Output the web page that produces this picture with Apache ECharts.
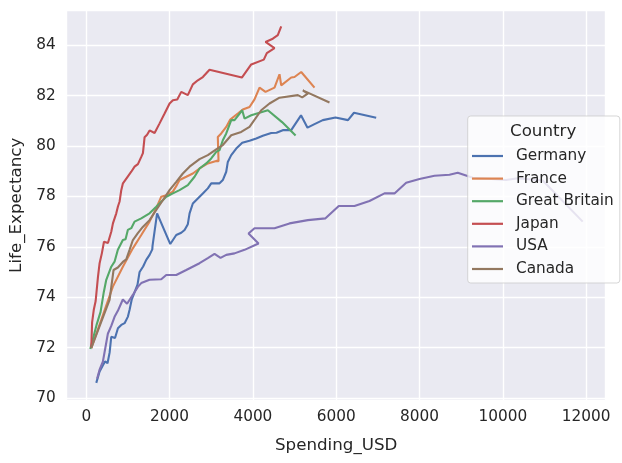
<!DOCTYPE html>
<html>
<head>
<meta charset="utf-8">
<script src="https://cdn.jsdelivr.net/npm/echarts@6/dist/echarts.min.js"></script>
<style>
html,body{margin:0;padding:0;background:#fff;}
#chart{width:622px;height:463px;}
</style>
</head>
<body>
<div id="chart"></div>
<script>
// ---- Data ----
const countries = ['Germany', 'France', 'Great Britain', 'Japan', 'USA', 'Canada'];
const xTickLabels = ['0', '2000', '4000', '6000', '8000', '10000', '12000'];
const yTickLabels = ['70', '72', '74', '76', '78', '80', '82', '84'];

const germanySpending = [240, 320, 400, 450, 510, 560, 600, 645, 690, 760, 840, 920, 1000, 1040, 1090, 1160, 1230, 1280, 1365, 1440, 1520, 1585, 1590, 1700, 2017, 2160, 2280, 2360, 2438, 2480, 2558, 2678, 2798, 2918, 3000, 3199, 3278, 3360, 3398, 3480, 3600, 3744, 3919, 4080, 4238, 4440, 4567, 4718, 4920, 5155, 5311, 5479, 5678, 5983, 6283, 6427, 6960];
const germanyLife = [70.6, 71.05, 71.3, 71.45, 71.38, 71.8, 72.43, 72.5, 72.38, 72.77, 72.9, 72.97, 73.23, 73.5, 73.9, 74.2, 74.5, 75.0, 75.22, 75.48, 75.68, 75.9, 76.03, 77.33, 76.11, 76.47, 76.56, 76.67, 76.9, 77.33, 77.72, 77.92, 78.12, 78.32, 78.52, 78.52, 78.65, 78.98, 79.37, 79.64, 79.9, 80.13, 80.21, 80.3, 80.41, 80.52, 80.53, 80.63, 80.63, 81.22, 80.73, 80.87, 81.03, 81.13, 81.03, 81.32, 81.12];

const franceSpending = [120, 360, 638, 878, 1118, 1320, 1519, 1680, 1800, 1920, 2078, 2174, 2239, 2400, 2558, 2719, 2918, 3120, 3175, 3158, 3240, 3360, 3456, 3638, 3758, 3919, 4039, 4159, 4303, 4519, 4639, 4680, 4920, 4999, 5160, 5479];
const franceLife = [71.98, 73.1, 74.42, 75.21, 75.94, 76.47, 77.0, 77.53, 77.99, 78.05, 78.19, 78.45, 78.65, 78.78, 78.91, 79.11, 79.31, 79.41, 79.4, 80.36, 80.5, 80.76, 81.05, 81.29, 81.45, 81.55, 81.85, 82.32, 82.15, 82.32, 82.85, 82.41, 82.72, 82.74, 82.94, 82.32];

const britainSpending = [96, 247, 343, 420, 480, 600, 679, 758, 878, 943, 998, 1080, 1159, 1320, 1519, 1680, 1800, 1920, 2079, 2239, 2438, 2599, 2719, 2880, 3000, 3120, 3199, 3278, 3360, 3480, 3559, 3744, 3799, 3960, 4159, 4359, 4700, 5025];
const britainLife = [71.94, 72.9, 73.42, 74.2, 74.69, 75.21, 75.41, 75.88, 76.27, 76.3, 76.67, 76.74, 77.0, 77.13, 77.33, 77.59, 77.79, 77.99, 78.12, 78.25, 78.45, 78.78, 79.11, 79.31, 79.51, 79.77, 79.84, 80.23, 80.5, 81.03, 81.03, 81.42, 81.09, 81.22, 81.32, 81.42, 80.95, 80.42];

const japanSpending = [120, 140, 180, 225, 280, 320, 375, 425, 520, 600, 640, 680, 720, 760, 800, 840, 880, 920, 1000, 1080, 1160, 1240, 1320, 1360, 1385, 1400, 1460, 1520, 1640, 1760, 1880, 2000, 2080, 2184, 2280, 2438, 2558, 2678, 2798, 2959, 3735, 3960, 4262, 4334, 4519, 4303, 4478, 4598, 4680];
const japanLife = [72.0, 73.0, 73.5, 73.85, 74.8, 75.35, 75.75, 76.2, 76.15, 76.6, 76.93, 77.0, 77.33, 77.6, 77.8, 78.25, 78.52, 78.45, 78.8, 78.98, 79.18, 79.28, 79.57, 79.72, 79.65, 80.35, 80.45, 80.62, 80.52, 80.9, 81.29, 81.69, 81.82, 81.85, 82.15, 82.02, 82.45, 82.61, 82.74, 83.03, 82.72, 83.24, 83.43, 83.69, 83.89, 84.13, 84.26, 84.4, 84.75];

const usaSpending = [259, 319, 398, 518, 600, 679, 758, 878, 979, 1118, 1238, 1320, 1519, 1800, 1920, 2160, 2400, 2719, 2918, 3079, 3223, 3360, 3559, 3799, 4135, 3895, 4039, 4519, 4879, 5319, 5743, 6062, 6439, 6799, 7159, 7399, 7680, 7999, 8359, 8719, 8918, 9278, 10079, 10358, 10958, 11918];
const usaLife = [70.76, 71.12, 71.44, 72.55, 72.86, 73.22, 73.46, 73.91, 73.74, 74.09, 74.41, 74.56, 74.69, 74.71, 74.88, 74.88, 75.08, 75.35, 75.55, 75.72, 75.56, 75.68, 75.74, 75.88, 76.13, 76.53, 76.74, 76.74, 76.93, 77.06, 77.13, 77.62, 77.62, 77.82, 78.12, 78.12, 78.54, 78.69, 78.82, 78.86, 78.94, 78.74, 78.65, 78.72, 78.63, 77.0];

const canadaSpending = [120, 559, 655, 758, 878, 960, 1039, 1119, 1238, 1358, 1519, 1680, 1838, 1999, 2160, 2318, 2479, 2719, 2918, 3120, 3278, 3480, 3720, 3919, 4200, 4399, 4639, 5079, 5184, 5318, 5198, 5839];
const canadaLife = [71.98, 73.89, 75.08, 75.18, 75.4, 75.5, 75.88, 76.27, 76.54, 76.79, 77.06, 77.46, 77.85, 78.25, 78.58, 78.91, 79.18, 79.48, 79.64, 79.87, 80.04, 80.43, 80.56, 80.76, 81.42, 81.69, 81.92, 82.02, 81.93, 82.08, 82.21, 81.73];

const spendingByCountry = [germanySpending, franceSpending, britainSpending, japanSpending, usaSpending, canadaSpending];
const lifeByCountry = [germanyLife, franceLife, britainLife, japanLife, usaLife, canadaLife];
const palette = ['#4C72B0', '#DD8452', '#55A868', '#C44E52', '#8172B3', '#937860'];

// ---- Chart ----
const chart = echarts.init(document.getElementById('chart'), null, {renderer: 'canvas'});
const FONT = 'DejaVu Sans';
const TXT = '#262626';

const series = countries.map((name, i) => ({
  name: name,
  type: 'line',
  data: spendingByCountry[i].map((x, k) => [x, lifeByCountry[i][k]]),
  showSymbol: false,
  symbol: 'none',
  lineStyle: {width: 2.1, color: palette[i]},
  itemStyle: {color: palette[i]},
  emphasis: {disabled: true},
  animation: false,
  z: 2 + i
}));

chart.setOption({
  animation: false,
  backgroundColor: '#ffffff',
  grid: {left: 66.7, right: 16.3, top: 10, bottom: 62.5, show: true, backgroundColor: '#EAEAF2', borderWidth: 0},
  xAxis: {
    type: 'value', min: -470, max: 12470, splitNumber: 6,
    name: 'Spending_USD', nameLocation: 'middle', nameGap: 37,
    nameTextStyle: {fontFamily: FONT, fontSize: 16.7, color: TXT},
    axisLine: {show: false}, axisTick: {show: false},
    splitLine: {show: true, lineStyle: {color: '#ffffff', width: 1.4}},
    axisLabel: {
      fontFamily: FONT, fontSize: 15.3, color: TXT, margin: 9,
      showMinLabel: true, showMaxLabel: true,
      formatter: v => (xTickLabels.indexOf(String(v)) >= 0 ? String(v) : '')
    }
  },
  yAxis: {
    type: 'value', min: 69.9, max: 85.4, splitNumber: 8,
    name: 'Life_Expectancy', nameLocation: 'middle', nameGap: 35,
    nameTextStyle: {fontFamily: FONT, fontSize: 16.7, color: TXT},
    axisLine: {show: false}, axisTick: {show: false},
    splitLine: {show: true, lineStyle: {color: '#ffffff', width: 1.4}},
    axisLabel: {
      fontFamily: FONT, fontSize: 15.3, color: TXT, margin: 11,
      formatter: v => (yTickLabels.indexOf(String(v)) >= 0 ? String(v) : '')
    }
  },
  legend: {
    data: countries,
    orient: 'vertical',
    left: 467.7, top: 116,
    padding: [30, 6, 4, 4.3],
    itemGap: 2.6,
    itemWidth: 31, itemHeight: 2.2,
    icon: 'rect',
    backgroundColor: 'rgba(255,255,255,0.8)',
    borderColor: 'rgba(204,204,204,0.8)', borderWidth: 1, borderRadius: 3,
    textStyle: {fontFamily: FONT, fontSize: 15.3, color: TXT, lineHeight: 20, padding: [0, 0, 0, 8]},
    z: 10
  },
  graphic: [{
    type: 'text', left: 510, top: 123, z: 100,
    style: {text: 'Country', font: '16.7px "DejaVu Sans"', fill: TXT}
  }],
  series: series
});
</script>
</body>
</html>
